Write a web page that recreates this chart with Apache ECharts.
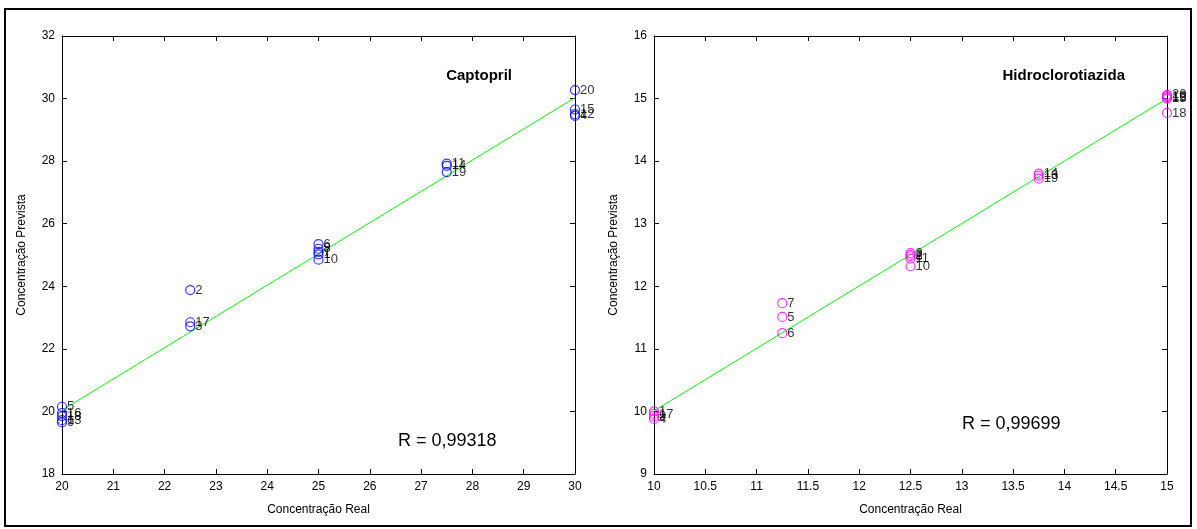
<!DOCTYPE html>
<html>
<head>
<meta charset="utf-8">
<script src="https://cdn.jsdelivr.net/npm/echarts@6/dist/echarts.min.js"></script>
<style>
html,body{margin:0;padding:0;background:#fff;}
#c{width:1197px;height:529px;}
</style>
</head>
<body>
<div id="c"></div>
<script>
// ---- Data ----
const capIds  = [5, 16, 18, 13, 9, 2, 17, 3, 6, 8, 7, 1, 10, 11, 14, 19, 20, 15, 12, 4];
const capReal = [20, 20, 20, 20, 20, 22.5, 22.5, 22.5, 25, 25, 25, 25, 25, 27.5, 27.5, 27.5, 30, 30, 30, 30];
const capPred = [20.15, 19.95, 19.85, 19.72, 19.65, 23.88, 22.85, 22.72, 25.35, 25.2, 25.1, 25.02, 24.85, 27.92, 27.85, 27.65, 30.27, 29.65, 29.5, 29.45];
const capFitX = [20, 30];
const capFitY = [20.04, 30.03];

const hctIds  = [1, 17, 9, 4, 7, 5, 6, 3, 2, 8, 11, 10, 14, 13, 19, 20, 16, 12, 15, 18];
const hctReal = [10, 10, 10, 10, 11.25, 11.25, 11.25, 12.5, 12.5, 12.5, 12.5, 12.5, 13.75, 13.75, 13.75, 15, 15, 15, 15, 15];
const hctPred = [10.0, 9.96, 9.92, 9.88, 11.73, 11.51, 11.25, 12.53, 12.5, 12.48, 12.44, 12.32, 13.8, 13.77, 13.72, 15.06, 15.04, 15.02, 15.0, 14.77];
const hctFitX = [10, 15];
const hctFitY = [10.01, 15.0];

const capTitle = 'Captopril';
const hctTitle = 'Hidroclorotiazida';
const capR = 'R = 0,99318';
const hctR = 'R = 0,99699';
const xName = 'Concentração Real';
const yName = 'Concentração Prevista';

// ---- Build ----
const FONT = 'Liberation Sans';
function pts(xs, ys, ids){ return xs.map((x,i)=>[x, ys[i], ids[i]]); }
function line(xs, ys){ return xs.map((x,i)=>[x, ys[i]]); }

const tickStyle = {show:true, inside:true, length:5, lineStyle:{color:'#000', width:1}};
function mainX(gi, min, max, iv){
  return {gridIndex:gi, type:'value', min:min, max:max, interval:iv, position:'bottom',
    name:xName, nameLocation:'middle', nameGap:30,
    nameTextStyle:{fontFamily:FONT, fontSize:12, color:'#000'},
    axisLine:{show:true, lineStyle:{color:'#000'}}, axisTick:tickStyle,
    axisLabel:{fontFamily:FONT, fontSize:12, color:'#000', margin:7},
    splitLine:{show:false}};
}
function topX(gi, min, max, iv){
  return {gridIndex:gi, type:'value', min:min, max:max, interval:iv, position:'top',
    axisLine:{show:true, lineStyle:{color:'#000'}}, axisTick:tickStyle,
    axisLabel:{show:false}, splitLine:{show:false}};
}
function mainY(gi, min, max, iv){
  return {gridIndex:gi, type:'value', min:min, max:max, interval:iv, position:'left',
    name:yName, nameLocation:'middle', nameGap:34,
    nameTextStyle:{fontFamily:FONT, fontSize:12, color:'#000'},
    axisLine:{show:true, lineStyle:{color:'#000'}}, axisTick:tickStyle,
    axisLabel:{fontFamily:FONT, fontSize:12, color:'#000', margin:7},
    splitLine:{show:false}};
}
function rightY(gi, min, max, iv){
  return {gridIndex:gi, type:'value', min:min, max:max, interval:iv, position:'right',
    axisLine:{show:true, lineStyle:{color:'#000'}}, axisTick:tickStyle,
    axisLabel:{show:false}, splitLine:{show:false}};
}
function scatter(xi, yi, data, color){
  return {type:'scatter', xAxisIndex:xi, yAxisIndex:yi, data:data, symbol:'circle', symbolSize:9,
    itemStyle:{color:'rgba(0,0,0,0)', borderColor:color, borderWidth:1.2},
    label:{show:true, position:'right', distance:0, formatter:p=>String(p.value[2]),
      fontFamily:FONT, fontSize:13, color:'#000'},
    labelLayout:{hideOverlap:false}, z:3};
}
function fit(xi, yi, data){
  return {type:'line', xAxisIndex:xi, yAxisIndex:yi, data:data, symbol:'none',
    lineStyle:{color:'#00ff00', width:1}, z:2, silent:true};
}

const chart = echarts.init(document.getElementById('c'), null, {renderer:'canvas'});
chart.setOption({
  animation:false,
  backgroundColor:'#fff',
  grid:[
    {left:62, top:36, width:513, height:438, show:false},
    {left:654, top:36, width:513, height:438, show:false}
  ],
  xAxis:[ mainX(0,20,30,1), topX(0,20,30,1), mainX(1,10,15,0.5), topX(1,10,15,0.5) ],
  yAxis:[ mainY(0,18,32,2), rightY(0,18,32,2), mainY(1,9,16,1), rightY(1,9,16,1) ],
  series:[
    fit(0,0,line(capFitX,capFitY)),
    scatter(0,0,pts(capReal,capPred,capIds),'#0000ff'),
    fit(2,2,line(hctFitX,hctFitY)),
    scatter(2,2,pts(hctReal,hctPred,hctIds),'#ff00ff')
  ],
  graphic:[
    {type:'rect', shape:{x:5, y:9, width:1186, height:517}, style:{fill:'none', stroke:'#000', lineWidth:2}, silent:true},
    {type:'text', right:685, top:68, style:{text:capTitle, font:'bold 15px '+FONT, fill:'#000'}},
    {type:'text', right:72, top:68, style:{text:hctTitle, font:'bold 15px '+FONT, fill:'#000'}},
    {type:'text', left:398, top:432, style:{text:capR, font:'18px '+FONT, fill:'#000'}},
    {type:'text', left:962, top:415, style:{text:hctR, font:'18px '+FONT, fill:'#000'}}
  ]
});
</script>
</body>
</html>
